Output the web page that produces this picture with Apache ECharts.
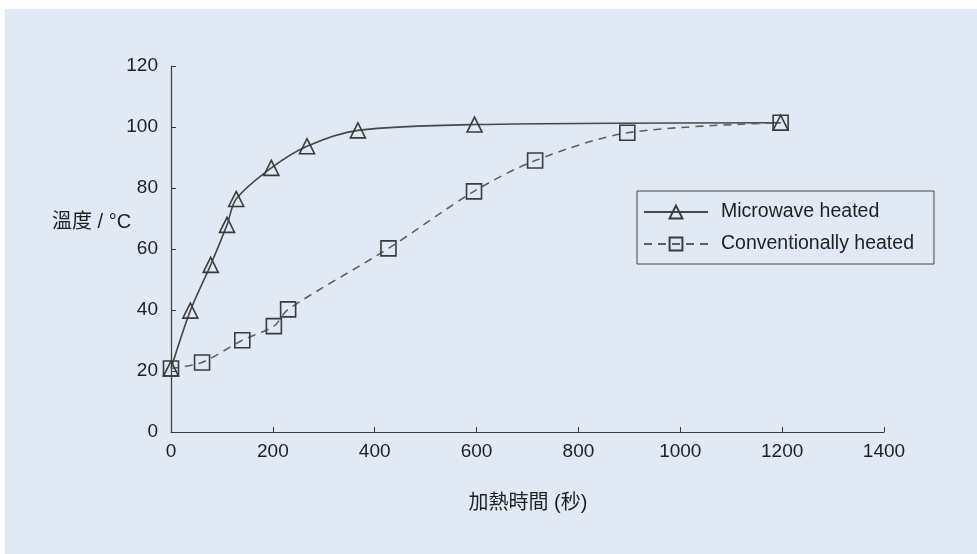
<!DOCTYPE html>
<html>
<head>
<meta charset="utf-8">
<script src="https://cdn.jsdelivr.net/npm/echarts@6/dist/echarts.min.js"></script>
<style>
  html, body { margin: 0; padding: 0; background: #ffffff; }
  #wrap { position: relative; width: 977px; height: 554px; overflow: hidden; }
  #panel { position: absolute; left: 5px; top: 9px; right: 0; bottom: 0; background: #e1e9f4; }
  #chart { position: absolute; left: 0; top: 0; width: 977px; height: 554px; }
</style>
</head>
<body>
<div id="wrap">
  <div id="panel"></div>
  <div id="chart"></div>
</div>
<script>
const seriesNames = ['Microwave heated', 'Conventionally heated'];
const microwaveX = [0, 38, 78, 110, 128, 197, 267, 367, 596, 1197];
const microwaveY = [20.8, 39.8, 54.8, 67.9, 76.4, 86.6, 93.7, 98.9, 100.8, 101.4];
const conventionalX = [0, 61, 140, 202, 230, 427, 595, 715, 896, 1197];
const conventionalY = [20.8, 22.8, 30.1, 34.7, 40.2, 60.2, 78.9, 89, 98.1, 101.4];
const xTicks = [0, 200, 400, 600, 800, 1000, 1200, 1400];
const yTicks = [0, 20, 40, 60, 80, 100, 120];
const xTitle = '加熱時間 (秒)';
const yTitle = '溫度 / °C';

const pair = (xs, ys) => xs.map((x, i) => [x, ys[i]]);
const font = '"Liberation Sans", Arial, sans-serif';
const mixFont = '"Liberation Sans", "Noto Sans CJK TC", "Noto Sans CJK SC", sans-serif';

const chart = echarts.init(document.getElementById('chart'), null, { renderer: 'canvas' });
chart.setOption({
  animation: false,
  backgroundColor: 'transparent',
  grid: { left: 171, right: 93, top: 66, bottom: 122, containLabel: false },
  xAxis: {
    type: 'value',
    min: xTicks[0], max: xTicks[xTicks.length - 1], interval: 200,
    axisLine: { lineStyle: { color: '#3a3a3a', width: 1.2 } },
    axisTick: { inside: true, length: 5, lineStyle: { color: '#3a3a3a' } },
    splitLine: { show: false },
    axisLabel: { color: '#1e1e1e', fontSize: 19, fontFamily: font, margin: 10, formatter: v => String(v) }
  },
  yAxis: {
    type: 'value',
    min: yTicks[0], max: yTicks[yTicks.length - 1], interval: 20,
    axisLine: { show: true, lineStyle: { color: '#3a3a3a', width: 1.2 } },
    axisTick: { show: true, inside: true, length: 5, lineStyle: { color: '#3a3a3a' } },
    splitLine: { show: false },
    axisLabel: { color: '#1e1e1e', fontSize: 19, fontFamily: font, margin: 13, formatter: v => String(v) }
  },
  legend: {
    orient: 'vertical',
    left: 637, top: 191,
    padding: [11, 20, 10, 6],
    itemWidth: 64, itemHeight: 16, itemGap: 12,
    borderColor: '#444', borderWidth: 1,
    backgroundColor: 'transparent',
    textStyle: { color: '#1e1e1e', fontSize: 19.5, fontFamily: font, padding: [0, 0, 0, 8] },
    data: seriesNames
  },
  graphic: [
    { type: 'text', x: 52, y: 222, style: { text: yTitle, fill: '#1e1e1e', font: '20px ' + mixFont, textAlign: 'left', textVerticalAlign: 'middle' } },
    { type: 'text', x: 528, y: 503, style: { text: xTitle, fill: '#1e1e1e', font: '20px ' + mixFont, textAlign: 'center', textVerticalAlign: 'middle' } }
  ],
  series: [
    {
      name: seriesNames[0],
      type: 'line',
      data: pair(microwaveX, microwaveY),
      smooth: 0.3,
      symbol: 'triangle',
      symbolSize: 15,
      lineStyle: { color: '#474747', width: 1.6 },
      itemStyle: { color: 'rgba(0,0,0,0)', borderColor: '#3a3a3a', borderWidth: 1.6 }
    },
    {
      name: seriesNames[1],
      type: 'line',
      data: pair(conventionalX, conventionalY),
      smooth: 0.3,
      symbol: 'rect',
      symbolSize: 15,
      lineStyle: { color: '#5f5f5f', width: 1.6, type: [8, 6] },
      itemStyle: { color: 'rgba(0,0,0,0)', borderColor: '#3a3a3a', borderWidth: 1.6 }
    }
  ]
});
</script>
</body>
</html>
